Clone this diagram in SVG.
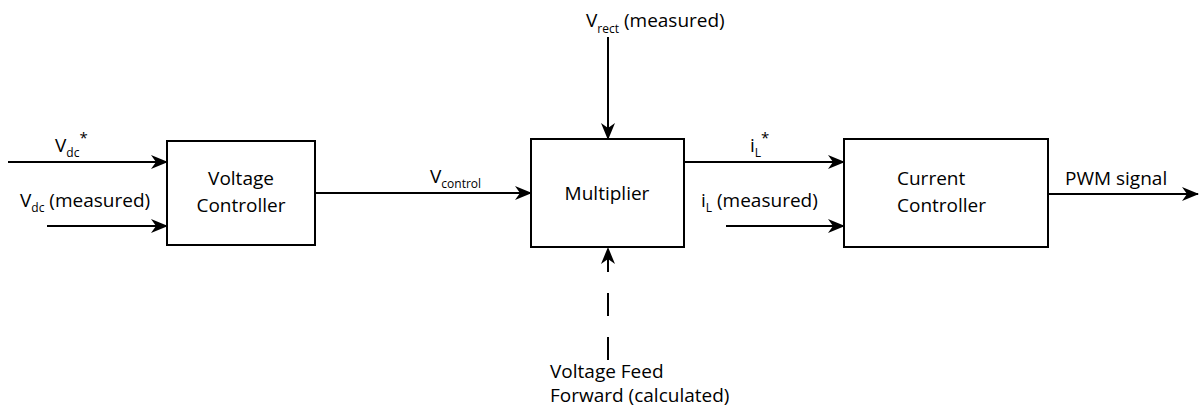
<svg xmlns="http://www.w3.org/2000/svg" width="1200" height="411" viewBox="0 0 1200 411">
<defs>
<style>
.box{fill:#fff;stroke:#000;stroke-width:2}
.ln{fill:none;stroke:#000;stroke-width:2}
text{font-family:"Open Sans","Liberation Sans",sans-serif;font-size:19px;fill:#000}
.sub{font-size:12px}
.sup{font-size:15px}
.c{text-anchor:middle}
</style>
<marker id="ah" markerUnits="userSpaceOnUse" markerWidth="18" markerHeight="14" refX="16" refY="7" orient="auto">
<path d="M0,0 L17,7 L0,14 L5,7 z" fill="#000"/>
</marker>
</defs>
<rect width="1200" height="411" fill="#fff"/>
<g id="connectors">
<line class="ln" x1="8" y1="162" x2="167" y2="162" marker-end="url(#ah)"/>
<line class="ln" x1="47" y1="226" x2="167" y2="226" marker-end="url(#ah)"/>
<line class="ln" x1="315" y1="193" x2="531" y2="193" marker-end="url(#ah)"/>
<line class="ln" x1="608" y1="37" x2="608" y2="139" marker-end="url(#ah)"/>
<line class="ln" x1="608" y1="360" x2="608" y2="248" stroke-dasharray="23,21" marker-end="url(#ah)"/>
<line class="ln" x1="684" y1="162" x2="844" y2="162" marker-end="url(#ah)"/>
<line class="ln" x1="726" y1="226" x2="844" y2="226" marker-end="url(#ah)"/>
<line class="ln" x1="1048" y1="194" x2="1198" y2="194" marker-end="url(#ah)"/>
</g>
<g id="voltage-controller">
<rect class="box" x="167" y="141" width="148" height="104"/>
<text class="c" x="241" y="185">Voltage</text>
<text class="c" x="241" y="212">Controller</text>
</g>
<g id="multiplier">
<rect class="box" x="531" y="139" width="153" height="108"/>
<text class="c" x="607" y="200">Multiplier</text>
</g>
<g id="current-controller">
<rect class="box" x="844" y="139" width="204" height="108"/>
<text x="897" y="185">Current</text>
<text x="897" y="212">Controller</text>
</g>
<g id="labels">
<text x="55" y="152">V<tspan class="sub" dy="5">dc</tspan><tspan class="sup" dy="-14">*</tspan></text>
<text x="20" y="207">V<tspan class="sub" dy="5">dc</tspan><tspan dy="-5"> (measured)</tspan></text>
<text x="430" y="183">V<tspan class="sub" dy="5">control</tspan></text>
<text x="586" y="27">V<tspan class="sub" dy="6">rect</tspan><tspan dy="-6"> (measured)</tspan></text>
<text x="750" y="152">i<tspan class="sub" dy="5">L</tspan><tspan class="sup" dy="-14">*</tspan></text>
<text x="701" y="207">i<tspan class="sub" dy="5">L</tspan><tspan dy="-5"> (measured)</tspan></text>
<text x="1065" y="185">PWM signal</text>
<text x="550" y="378">Voltage Feed</text>
<text x="550" y="402">Forward (calculated)</text>
</g>
</svg>
